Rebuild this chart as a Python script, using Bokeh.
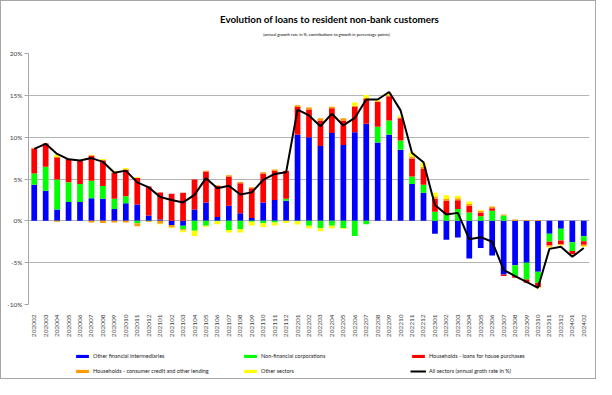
import math
import numpy as np
from bokeh.plotting import figure
from bokeh.layouts import column
from bokeh.models import (ColumnDataSource, Legend, LegendItem, Label, Range1d,
                          FixedTicker, PrintfTickFormatter)
from bokeh.embed import file_html
from bokeh.resources import INLINE

months = ["202002", "202003", "202004", "202005", "202006", "202007", "202008", "202009", "202010", "202011", "202012",
          "202101", "202102", "202103", "202104", "202105", "202106", "202107", "202108", "202109", "202110", "202111", "202112",
          "202201", "202202", "202203", "202204", "202205", "202206", "202207", "202208", "202209", "202210", "202211", "202212",
          "202301", "202302", "202303", "202304", "202305", "202306", "202307", "202308", "202309", "202310", "202311", "202312",
          "202401", "202402"]

other_fin = [4.3, 3.6, 1.35, 2.25, 2.25, 2.7, 2.65, 1.4, 2.1, 1.95, 0.65,
             0.15, -0.5, -0.6, 1.35, 2.2, 0.45, 1.8, 0.9, 0.35, 2.2, 2.5, 2.4,
             10.3, 10.0, 8.95, 10.5, 9.05, 10.6, 11.6, 9.35, 10.3, 8.5, 4.4, 3.35,
             -1.55, -2.25, -2.0, -4.5, -3.25, -4.15, -6.4, -5.3, -5.0, -6.1, -1.55, -0.95,
             -2.55, -1.85]
non_fin_corp = [1.35, 2.85, 3.6, 2.35, 2.15, 2.1, 1.5, 1.25, 0.85, -0.3, -0.05,
                0.0, 0.0, -0.4, -1.2, -0.6, -0.05, -1.1, -1.0, -0.1, -0.3, -0.2, 0.25,
                -0.05, -0.6, -0.9, -0.6, -0.85, -1.8, -0.4, 1.9, 1.7, 1.1, 0.9, 0.95,
                1.1, 0.75, 1.4, 1.0, 0.55, 1.2, 0.65, -1.3, -2.0, -1.3, -0.95, -1.4,
                -1.05, -0.6]
house_loans = [3.0, 2.8, 2.65, 2.8, 2.85, 3.0, 3.1, 3.1, 3.2, 3.2, 3.45,
               3.25, 3.25, 3.35, 3.6, 3.7, 3.7, 3.5, 3.6, 3.55, 3.45, 3.45, 3.3,
               3.3, 3.3, 3.05, 2.95, 2.95, 3.0, 2.95, 2.95, 2.9, 2.65, 2.15, 1.9,
               1.55, 1.65, 1.05, 0.8, 0.45, 0.3, -0.2, -0.2, -0.4, -0.55, -0.45, -0.45,
               -0.4, -0.4]
consumer_credit = [0.05, 0.05, -0.1, 0.0, 0.0, -0.2, -0.25, -0.2, -0.2, -0.35, -0.1,
                   -0.35, -0.3, -0.15, 0.0, 0.1, 0.1, 0.15, 0.15, 0.1, 0.15, 0.2, 0.05,
                   0.2, 0.25, 0.25, 0.2, 0.25, 0.15, 0.15, 0.1, 0.1, 0.1, 0.25, 0.25,
                   0.25, 0.2, 0.25, 0.2, 0.2, 0.2, 0.1, 0.15, 0.1, 0.1, -0.15, -0.1,
                   -0.05, -0.15]
other_sectors = [0.05, 0.0, 0.3, 0.0, 0.0, 0.1, 0.15, 0.2, 0.15, 0.1, 0.0,
                 -0.05, -0.1, -0.2, -0.6, -0.1, -0.35, -0.3, -0.4, -0.45, -0.45, -0.35, -0.25,
                 -0.4, -0.3, -0.35, -0.3, -0.1, 0.4, 0.35, 0.1, 0.25, 0.2, 0.5, 0.5,
                 0.45, 0.45, 0.3, 0.3, 0.1, 0.0, 0.0, 0.0, 0.0, -0.1, -0.1, -0.05,
                 -0.05, -0.1]
all_sectors = [8.6, 9.2, 8.0, 7.35, 7.2, 7.5, 7.05, 5.75, 6.0, 4.6, 4.0,
               2.85, 2.5, 2.2, 3.1, 5.1, 3.9, 4.2, 3.15, 3.4, 4.9, 5.6, 5.8,
               13.3, 12.6, 11.3, 12.8, 11.4, 12.3, 14.5, 14.5, 15.4, 13.2, 8.1, 7.0,
               1.9, 0.75, 0.95, -2.2, -1.95, -2.5, -5.85, -6.6, -7.3, -8.0, -3.35, -3.1,
               -4.3, -3.25]

series_names = ["Other financial intermediaries", "Non-financial corporations",
                "Households - loans for house purchases",
                "Households - consumer credit and other lending", "Other sectors"]
line_name = "All sectors (annual groth rate in %)"
series_vals = [other_fin, non_fin_corp, house_loans, consumer_credit, other_sectors]
series_colors = ["#0000FF", "#00FF00", "#FF0000", "#FF9900", "#FFFF00"]

title_text = "Evolution of loans to resident non-bank customers"
subtitle_text = "(annual growth rate in %, contributions to growth in percentage points)"

FONT = "Lato"
BORDER = "1px solid #A6A6A6"
W = 596
H_TOP, H_MAIN, H_LEG = 45, 295, 39
LEFT, RIGHT = 27, 8

# --- title strip (frame aligned with the chart frame; data units = page pixels) ---
tf = figure(width=W, height=H_TOP, x_range=Range1d(LEFT, W - RIGHT), y_range=Range1d(H_TOP, 0),
            x_axis_type=None, y_axis_type=None, output_backend="svg", toolbar_location=None,
            min_border_left=LEFT, min_border_right=RIGHT, min_border_top=0, min_border_bottom=0)
tf.outline_line_color = None
tf.grid.visible = False
tf.styles = {"border-top": BORDER, "border-left": BORDER, "border-right": BORDER,
             "box-sizing": "border-box"}
tf.add_layout(Label(x=328, y=17.5, text=title_text, text_align="center", text_baseline="middle",
                    text_font=FONT, text_font_size="9.8px", text_font_style="bold",
                    text_color="#000000"))
tf.add_layout(Label(x=325, y=33, text=subtitle_text, text_align="center", text_baseline="middle",
                    text_font=FONT, text_font_size="4.1px", text_color="#000000"))

# --- main chart ---
p = figure(x_range=months, y_range=(-10, 20), width=W, height=H_MAIN,
           output_backend="svg", toolbar_location=None, title=None,
           min_border_left=LEFT, min_border_right=RIGHT, min_border_top=8, min_border_bottom=35)
p.background_fill_color = "white"
p.border_fill_color = "white"
p.outline_line_color = None
p.styles = {"border-left": BORDER, "border-right": BORDER, "box-sizing": "border-box"}

cum_pos = np.zeros(len(months))
cum_neg = np.zeros(len(months))
for name, vals, col in zip(series_names, series_vals, series_colors):
    v = np.array(vals, dtype=float)
    pos = np.where(v > 0, v, 0.0)
    neg = np.where(v < 0, v, 0.0)
    bottom = np.concatenate([cum_pos, cum_neg])
    top = np.concatenate([cum_pos + pos, cum_neg + neg])
    cum_pos = cum_pos + pos
    cum_neg = cum_neg + neg
    src = ColumnDataSource(dict(x=months + months, bottom=bottom, top=top))
    p.vbar(x="x", bottom="bottom", top="top", width=0.5, source=src,
           fill_color=col, line_color=None)

p.line(x=months, y=all_sectors, line_color="black", line_width=2)

p.yaxis.ticker = FixedTicker(ticks=[-10, -5, 0, 5, 10, 15, 20])
p.yaxis.formatter = PrintfTickFormatter(format="%d%%")
p.yaxis.axis_line_color = "#A6A6A6"
p.yaxis.major_tick_line_color = "#A6A6A6"
p.yaxis.major_tick_out = 4
p.yaxis.major_tick_in = 0
p.yaxis.minor_tick_line_color = None
p.yaxis.major_label_standoff = 2
p.yaxis.major_label_text_font = FONT
p.yaxis.major_label_text_font_size = "6.5px"
p.yaxis.major_label_text_color = "#404040"

p.ygrid.ticker = FixedTicker(ticks=[-10, -5, 0, 5, 10, 15, 20])
p.ygrid.grid_line_color = "#B4B4B4"
p.xgrid.grid_line_color = None

p.xaxis.major_label_orientation = math.pi / 2
p.xaxis.axis_line_color = None
p.xaxis.major_tick_line_color = None
p.xaxis.major_label_standoff = 4
p.xaxis.major_label_text_font = FONT
p.xaxis.major_label_text_font_size = "6.5px"
p.xaxis.major_label_text_color = "#404040"

# --- legend strip ---
lf = figure(width=W, height=H_LEG, x_range=Range1d(LEFT, W - RIGHT), y_range=Range1d(0, H_LEG),
            x_axis_type=None, y_axis_type=None, output_backend="svg", toolbar_location=None,
            min_border_left=LEFT, min_border_right=RIGHT, min_border_top=0, min_border_bottom=0)
lf.outline_line_color = None
lf.grid.visible = False
lf.styles = {"border-bottom": BORDER, "border-left": BORDER, "border-right": BORDER,
             "box-sizing": "border-box"}
items = []
for name, col in zip(series_names, series_colors):
    # zero-size proxy glyph: only used to draw the legend swatch
    r = lf.vbar(x=[LEFT], top=[0], bottom=[0], width=0, fill_color=col, line_color=None)
    items.append(LegendItem(label=name, renderers=[r]))
lr = lf.line(x=[LEFT], y=[0], line_color="black", line_width=2)
items.append(LegendItem(label=line_name, renderers=[lr]))

legend = Legend(items=items, location=(73 - LEFT, 2), orientation="horizontal", ncols=3,
                glyph_width=16, glyph_height=4, label_width=146, label_height=12,
                label_standoff=3, spacing=3, padding=0, margin=0,
                border_line_color=None, background_fill_alpha=0,
                label_text_font=FONT, label_text_font_size="5.5px", label_text_color="#222222")
lf.add_layout(legend, "center")

layout = column(tf, p, lf, spacing=0)

open("out.html", "w").write(file_html(layout, INLINE))
